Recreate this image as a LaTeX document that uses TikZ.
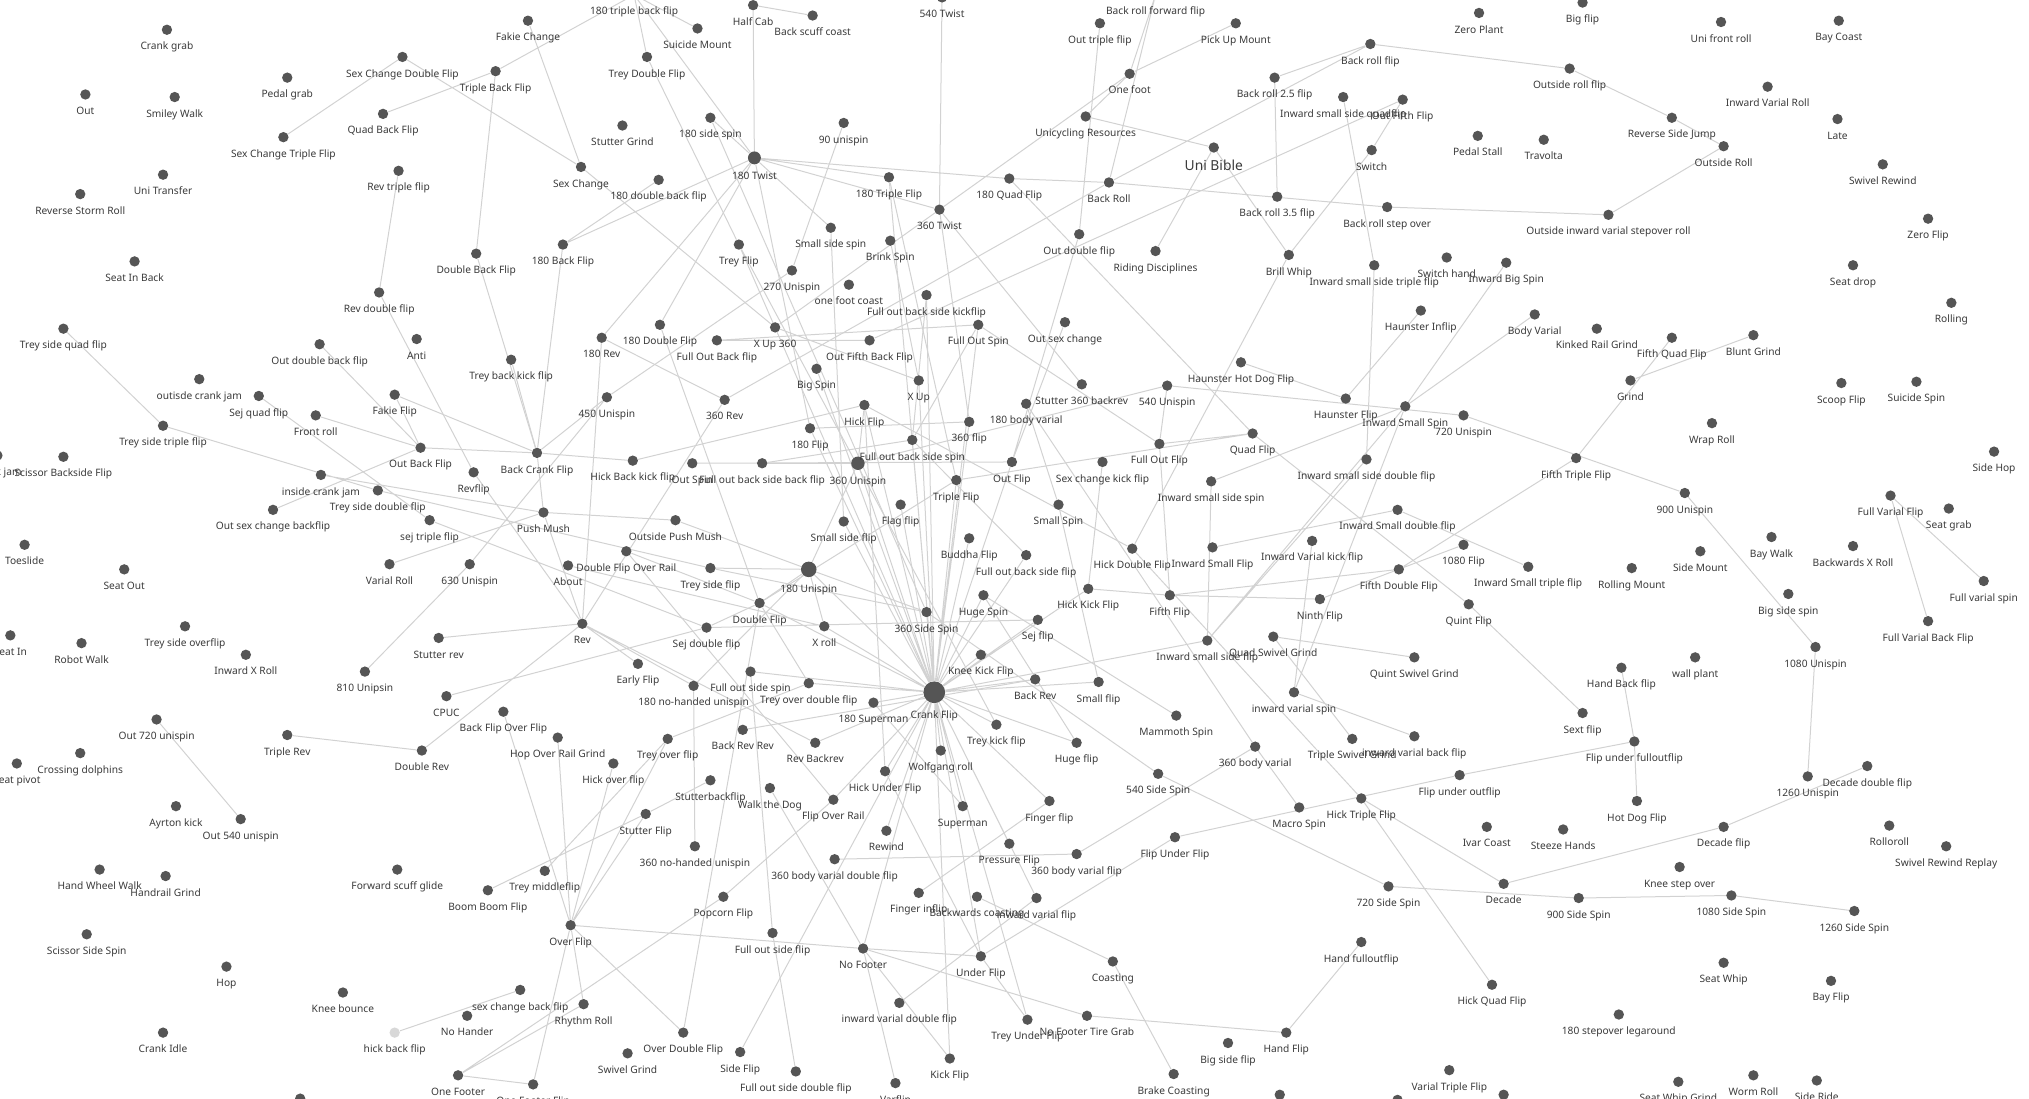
\documentclass[tikz,border=0pt]{standalone}
\usepackage{fontspec}
\setmainfont{Noto Sans}
\usetikzlibrary{backgrounds}
\definecolor{dotgray}{HTML}{555555}
\definecolor{linkgray}{HTML}{D2D2D2}
\definecolor{labelgray}{HTML}{3A3A3A}
\definecolor{paledot}{HTML}{D8D8D8}

\begin{document}
\begin{tikzpicture}[
    x=0.025cm, y=-0.025cm,
    dot/.style={circle, fill=dotgray, inner sep=0pt, minimum size=0.2cm},
    hubdot/.style={dot, minimum size=#1},
    link/.style={draw=linkgray, line width=0.55pt},
    every label/.style={font=\fontsize{5.6}{6}\selectfont, text=labelgray, inner sep=0pt,
                        text height=4.1pt, text depth=1.2pt},
    label distance=3.7pt
]
\useasboundingbox (0,0) rectangle (1568,849);

% left side
\node[dot, label={below:Crank grab}] (crankgrab) at (129,23) {};
\node[dot, label={below:Out}] (out) at (66,73) {};
\node[dot, label={below:Smiley Walk}] (smileywalk) at (135,75) {};
\node[dot, label={below:Pedal grab}] (pedalgrab) at (222,60) {};
\node[dot, label={below:Sex Change Double Flip}] (scdouble) at (311,44) {};
\node[dot, label={below:Triple Back Flip}] (tripleback) at (383,55) {};
\node[dot, label={below:Quad Back Flip}] (quadback) at (296,88) {};
\node[dot, label={below:Sex Change Triple Flip}] (sctriple) at (219,106) {};
\node[dot, label={below:Uni Transfer}] (unitransfer) at (126,135) {};
\node[dot, label={below:Reverse Storm Roll}] (revstorm) at (62,150) {};
\node[dot, label={below:Rev triple flip}] (revtriple) at (308,132) {};
\node[dot, label={below:Seat In Back}] (seatinback) at (104,202) {};
\node[dot, label={below:Double Back Flip}] (doubleback) at (368,196) {};
\node[dot, label={below:Rev double flip}] (revdouble) at (293,226) {};
\node[dot, label={below:Trey side quad flip}] (tsquad) at (49,254) {};
\node[dot, label={below:Out double back flip}] (outdoubleback) at (247,266) {};
\node[dot, label={below:Anti}] (anti) at (322,262) {};
\node[dot, label={below:Trey back kick flip}] (treybackkick) at (395,278) {};
\node[dot, label={below:outisde crank jam}] (outsidecrankjam) at (154,293) {};
\node[dot, label={below:Sej quad flip}] (sejquad) at (200,306) {};
\node[dot, label={below:Fakie Flip}] (fakieflip) at (305,305) {};
\node[dot, label={below:Front roll}] (frontroll) at (244,321) {};
\node[dot, label={below:Trey side triple flip}] (tstriple) at (126,329) {};
\node[dot, label={below:Out Back Flip}] (outback) at (325,346) {};
\node[dot, label={below:Scissor Backside Flip}] (scissorback) at (49,353) {};
\node[dot, label={below:Crank jam}] (crankjam) at (-2,352) {};
\node[dot, label={below:inside crank jam}] (insidecrankjam) at (248,367) {};
\node[dot, label={below:Trey side double flip}] (tsdouble) at (292,379) {};
\node[dot, label={below:Revflip}] (revflip) at (366,365) {};
\node[dot, label={below:Out sex change backflip}] (outscback) at (211,394) {};
\node[dot, label={below:sej triple flip}] (sejtriple) at (332,402) {};
\node[dot, label={below:Toeslide}] (toeslide) at (19,421) {};
\node[dot, label={below:Varial Roll}] (varialroll) at (301,436) {};
\node[dot, label={below:630 Unispin}] (u630) at (363,436) {};
\node[dot, label={below:Seat Out}] (seatout) at (96,440) {};
\node[dot, label={below:Seat In}] (seatin) at (8,491) {};
\node[dot, label={below:Robot Walk}] (robotwalk) at (63,497) {};
\node[dot, label={below:Trey side overflip}] (tsoverflip) at (143,484) {};
\node[dot, label={below:Inward X Roll}] (inwardxroll) at (190,506) {};
\node[dot, label={below:Stutter rev}] (stutterrev) at (339,493) {};
\node[dot, label={below:810 Unipsin}] (u810) at (282,519) {};
\node[dot, label={below:CPUC}] (cpuc) at (345,538) {};
\node[dot, label={below:Back Flip Over Flip}] (bfof) at (389,550) {};
\node[dot, label={below:Out 720 unispin}] (out720) at (121,556) {};
\node[dot, label={below:Triple Rev}] (triplerev) at (222,568) {};
\node[dot, label={below:Double Rev}] (doublerev) at (326,580) {};
\node[dot, label={below:Crossing dolphins}] (crossdolphins) at (62,582) {};
\node[dot, label={below:Seat pivot}] (seatpivot) at (13,590) {};
\node[dot, label={below:Ayrton kick}] (ayrton) at (136,623) {};
\node[dot, label={below:Out 540 unispin}] (out540) at (186,633) {};
\node[dot, label={below:Hand Wheel Walk}] (handwheel) at (77,672) {};
\node[dot, label={below:Handrail Grind}] (handrail) at (128,677) {};
\node[dot, label={below:Forward scuff glide}] (fwdscuff) at (307,672) {};
\node[dot, label={below:Boom Boom Flip}] (boomboom) at (377,688) {};
\node[dot, label={below:Scissor Side Spin}] (scissorside) at (67,722) {};
\node[dot, label={below:Hop}] (hop) at (175,747) {};
\node[dot, label={below:Knee bounce}] (kneebounce) at (265,767) {};
\node[dot, label={below:Crank Idle}] (crankidle) at (126,798) {};
\node[dot, fill=paledot, label={below:hick back flip}] (hickbackflip) at (305,798) {};
\node[dot, label={below:No Hander}] (nohander) at (361,785) {};
\node[dot, label={below:One Footer}] (onefooter) at (354,831) {};
\node[dot, label={below:One Footer Flip}] (onefooterflip) at (412,838) {};
\node[dot] (pdota) at (232,849) {};

% centre
\node[dot, label={below:Fakie Change}] (fakiechange) at (408,16) {};
\node[dot, label={below:180 triple back flip}] (tbf180) at (490,-4) {};
\node[dot, label={below:Half Cab}] (halfcab) at (582,4) {};
\node[dot, label={below:Back scuff coast}] (backscuff) at (628,12) {};
\node[dot, label={below:Suicide Mount}] (suicidemount) at (539,22) {};
\node[dot, label={below:540 Twist}] (twist540) at (728,-2) {};
\node[dot, label={below:Trey Double Flip}] (treydouble) at (500,44) {};
\node[dot, label={below:Stutter Grind}] (stuttergrind) at (481,97) {};
\node[dot, label={below:180 side spin}] (sidespin180) at (549,91) {};
\node[dot, label={below:90 unispin}] (ninety) at (652,95) {};
\node[hubdot=0.25cm, label={below:180 Twist}] (twist180) at (583,122) {};
\node[dot, label={below:Sex Change}] (sexchange) at (449,129) {};
\node[dot, label={below:180 double back flip}] (doubleback180) at (509,139) {};
\node[dot, label={below:180 Triple Flip}] (triple180) at (687,137) {};
\node[dot, label={below:180 Quad Flip}] (quad180) at (780,138) {};
\node[dot, label={below:360 Twist}] (twist360) at (726,162) {};
\node[dot, label={below:180 Back Flip}] (back180) at (435,189) {};
\node[dot, label={below:Trey Flip}] (treyflip) at (571,189) {};
\node[dot, label={below:Small side spin}] (smallsidespin) at (642,176) {};
\node[dot, label={below:Brink Spin}] (brinkspin) at (688,186) {};
\node[dot, label={below:270 Unispin}] (u270) at (612,209) {};
\node[dot, label={below:one foot coast}] (onefootcoast) at (656,220) {};
\node[dot, label={below:Full out back side kickflip}] (fobskick) at (716,228) {};
\node[dot, label={below:180 Double Flip}] (double180) at (510,251) {};
\node[dot, label={below:180 Rev}] (rev180) at (465,261) {};
\node[dot, label={below:Full Out Back flip}] (fullOutBack) at (554,263) {};
\node[dot, label={below:X Up 360}] (xup360) at (599,253) {};
\node[dot, label={below:Out Fifth Back Flip}] (outfifthback) at (672,263) {};
\node[dot, label={below:Full Out Spin}] (fullOutSpin) at (756,251) {};
\node[dot, label={below:Big Spin}] (bigspin) at (631,285) {};
\node[dot, label={below:450 Unispin}] (u450) at (469,307) {};
\node[dot, label={below:360 Rev}] (rev360) at (560,309) {};
\node[dot, label={below:X Up}] (xup) at (710,294) {};
\node[dot, label={below:Hick Flip}] (hickflip) at (668,313) {};
\node[dot, label={below:180 Flip}] (flip180) at (626,331) {};
\node[dot, label={below:360 flip}] (flip360) at (749,326) {};
\node[dot, label={below:Back Crank Flip}] (backcrank) at (415,350) {};
\node[dot, label={below:Hick Back kick flip}] (hickbackkick) at (489,356) {};
\node[dot, label={below:Out Spin}] (outspin) at (535,358) {};
\node[dot, label={below:Full out back side back flip}] (fobsbf) at (589,358) {};
\node[hubdot=0.26cm, label={below:360 Unispin}] (u360) at (663,358) {};
\node[dot, label={below:Full out back side spin}] (fobss) at (705,340) {};
\node[dot, label={below:Out Flip}] (outflip) at (782,357) {};
\node[dot, label={below:Triple Flip}] (tripleflip) at (739,371) {};
\node[dot, label={below:Push Mush}] (pushmush) at (420,396) {};
\node[dot, label={below:Outside Push Mush}] (outsidepush) at (522,402) {};
\node[dot, label={below:Flag flip}] (flagflip) at (696,390) {};
\node[dot, label={below:Small side flip}] (smallsideflip) at (652,403) {};
\node[dot, label={below:Buddha Flip}] (buddha) at (749,416) {};
\node[dot, label={below:Double Flip Over Rail}] (dfor) at (484,426) {};
\node[dot, label={below:About}] (about) at (439,437) {};
\node[dot, label={below:Trey side flip}] (tsflip) at (549,439) {};
\node[hubdot=0.3cm, label={below:180 Unispin}] (u180) at (625,440) {};
\node[dot, label={below:Full out back side flip}] (fobsflip) at (793,429) {};
\node[dot, label={below:Huge Spin}] (hugespin) at (760,460) {};
\node[dot, label={below:Double Flip}] (doubleflip) at (587,466) {};
\node[dot, label={below:360 Side Spin}] (sidespin360) at (716,473) {};
\node[dot, label={below:Rev}] (rev) at (450,482) {};
\node[dot, label={below:Sej double flip}] (sejdouble) at (546,485) {};
\node[dot, label={below:X roll}] (xroll) at (637,484) {};
\node[dot, label={below:Knee Kick Flip}] (kneekick) at (758,506) {};
\node[dot, label={below:Early Flip}] (earlyflip) at (493,513) {};
\node[dot, label={below:Full out side spin}] (fosspin) at (580,519) {};
\node[dot, label={below:Trey over double flip}] (treyoverdouble) at (625,528) {};
\node[dot, label={below:180 no-handed unispin}] (nohanded180) at (536,530) {};
\node[hubdot=0.42cm, label={below:Crank Flip}] (crankflip) at (722,535) {};
\node[dot, label={below:180 Superman}] (superman180) at (675,543) {};
\node[dot, label={below:Trey kick flip}] (treykick) at (770,560) {};
\node[dot, label={below:Back Rev Rev}] (backrevrev) at (574,564) {};
\node[dot, label={below:Hop Over Rail Grind}] (hopoverrail) at (431,570) {};
\node[dot, label={below:Trey over flip}] (treyoverflip) at (516,571) {};
\node[dot, label={below:Rev Backrev}] (revbackrev) at (630,574) {};
\node[dot, label={below:Wolfgang roll}] (wolfgang) at (727,580) {};
\node[dot, label={below:Hick over flip}] (hickoverflip) at (474,590) {};
\node[dot, label={below:Hick Under Flip}] (hickunder) at (684,596) {};
\node[dot, label={below:Stutterbackflip}] (stutterbackflip) at (549,603) {};
\node[dot, label={below:Walk the Dog}] (walkdog) at (595,609) {};
\node[dot, label={below:Flip Over Rail}] (flipoverrail) at (644,618) {};
\node[dot, label={below:Superman}] (superman) at (744,623) {};
\node[dot, label={below:Stutter Flip}] (stutterflip) at (499,629) {};
\node[dot, label={below:Rewind}] (rewind) at (685,642) {};
\node[dot, label={below:Pressure Flip}] (pressureflip) at (780,652) {};
\node[dot, label={below:360 no-handed unispin}] (nohanded360) at (537,654) {};
\node[dot, label={below:360 body varial double flip}] (bvdf360) at (645,664) {};
\node[dot, label={below:Trey middleflip}] (treymiddle) at (421,673) {};
\node[dot, label={below:Finger inflip}] (fingerinflip) at (710,690) {};
\node[dot, label={below:Backwards coasting}] (bwcoasting) at (755,693) {};
\node[dot, label={below:Popcorn Flip}] (popcorn) at (559,693) {};
\node[dot, label={below:Over Flip}] (overflip) at (441,715) {};
\node[dot, label={below:Full out side flip}] (fosflip) at (597,721) {};
\node[dot, label={below:No Footer}] (nofooter) at (667,733) {};
\node[dot, label={below:Under Flip}] (underflip) at (758,739) {};
\node[dot, label={below:sex change back flip}] (scbackflip) at (402,765) {};
\node[dot, label={below:Rhythm Roll}] (rhythm) at (451,776) {};
\node[dot, label={below:inward varial double flip}] (ivdf) at (695,775) {};
\node[dot, label={below:Over Double Flip}] (overdouble) at (528,798) {};
\node[dot, label={below:Swivel Grind}] (swivelgrind) at (485,814) {};
\node[dot, label={below:Side Flip}] (sideflip) at (572,813) {};
\node[dot, label={below:Kick Flip}] (kickflip) at (734,818) {};
\node[dot, label={below:Full out side double flip}] (fosdouble) at (615,828) {};
\node[dot, label={below:Varflip}] (varflip) at (692,837) {};

% right of centre
\node[dot, label={below:Back roll forward flip}] (brfwd) at (893,-4) {};
\node[dot, label={below:Out triple flip}] (outtriple) at (850,18) {};
\node[dot, label={below:Pick Up Mount}] (pickup) at (955,18) {};
\node[dot, label={below:One foot}] (onefoot) at (873,57) {};
\node[dot, label={below:Back roll flip}] (backrollflip) at (1059,34) {};
\node[dot, label={below:Back roll 2.5 flip}] (br25) at (985,60) {};
\node[dot, label={below:Inward small side quadflip}] (issquad) at (1038,75) {};
\node[dot, label={below:Out Fifth Flip}] (outfifthflip) at (1084,77) {};
\node[dot, label={below:Zero Plant}] (zeroplant) at (1143,10) {};
\node[dot, label={below:Pedal Stall}] (pedalstall) at (1142,105) {};
\node[dot, label={below:Unicycling Resources}] (unires) at (839,90) {};
\node[dot, label={[font=\fontsize{7.6}{8}\selectfont, text height=5.6pt]below:Uni Bible}] (unibible) at (938,114) {};
\node[dot, label={below:Switch}] (switch) at (1060,116) {};
\node[dot, label={below:Back Roll}] (backroll) at (857,141) {};
\node[dot, label={below:Back roll 3.5 flip}] (br35) at (987,152) {};
\node[dot, label={below:Back roll step over}] (brstep) at (1072,160) {};
\node[dot, label={below:Out double flip}] (outdoubleflip) at (834,181) {};
\node[dot, label={below:Riding Disciplines}] (ridingdisc) at (893,194) {};
\node[dot, label={below:Brill Whip}] (brillwhip) at (996,197) {};
\node[dot, label={below:Inward small side triple flip}] (isstriple) at (1062,205) {};
\node[dot, label={below:Switch hand}] (switchhand) at (1118,199) {};
\node[dot, label={below:Inward Big Spin}] (inwardbigspin) at (1164,203) {};
\node[dot, label={below:Haunster Inflip}] (haunsterinflip) at (1098,240) {};
\node[dot, label={below:Out sex change}] (outsexchange) at (823,249) {};
\node[dot, label={below:Body Varial}] (bodyvarial) at (1186,243) {};
\node[dot, label={below:Haunster Hot Dog Flip}] (haunsterhotdog) at (959,280) {};
\node[dot, label={below:Stutter 360 backrev}] (stutter360) at (836,297) {};
\node[dot, label={below:180 body varial}] (body180) at (793,312) {};
\node[dot, label={below:540 Unispin}] (u540) at (902,298) {};
\node[dot, label={below:Haunster Flip}] (haunsterflip) at (1040,308) {};
\node[dot, label={below:Inward Small Spin}] (inwardsmallspin) at (1086,314) {};
\node[dot, label={below:720 Unispin}] (u720) at (1131,321) {};
\node[dot, label={below:Full Out Flip}] (fulloutflip) at (896,343) {};
\node[dot, label={below:Quad Flip}] (quadflip) at (968,335) {};
\node[dot, label={below:Sex change kick flip}] (sckickflip) at (852,357) {};
\node[dot, label={below:Inward small side spin}] (issspin) at (936,372) {};
\node[dot, label={below:Inward small side double flip}] (issdouble) at (1056,355) {};
\node[dot, label={below:Small Spin}] (smallspin) at (818,390) {};
\node[dot, label={below:Inward Small double flip}] (isdouble) at (1080,394) {};
\node[dot, label={below:Inward Small Flip}] (inwardsmallflip) at (937,423) {};
\node[dot, label={below:Hick Double Flip}] (hickdouble) at (875,424) {};
\node[dot, label={below:Inward Varial kick flip}] (ivkick) at (1014,418) {};
\node[dot, label={below:1080 Flip}] (flip1080) at (1131,421) {};
\node[dot, label={below:Fifth Double Flip}] (fifthdouble) at (1081,440) {};
\node[dot, label={below:Hick Kick Flip}] (hickkick) at (841,455) {};
\node[dot, label={below:Fifth Flip}] (fifthflip) at (904,460) {};
\node[dot, label={below:Ninth Flip}] (ninthflip) at (1020,463) {};
\node[dot, label={below:Quint Flip}] (quintflip) at (1135,467) {};
\node[dot, label={below:Sej flip}] (sejflip) at (802,479) {};
\node[dot, label={below:Inward small side flip}] (issflip) at (933,495) {};
\node[dot, label={below:Quad Swivel Grind}] (quadswivel) at (984,492) {};
\node[dot, label={below:Quint Swivel Grind}] (quintswivel) at (1093,508) {};
\node[dot, label={below:Back Rev}] (backrev) at (800,525) {};
\node[dot, label={below:Small flip}] (smallflip) at (849,527) {};
\node[dot, label={below:inward varial spin}] (ivspin) at (1000,535) {};
\node[dot, label={below:Mammoth Spin}] (mammoth) at (909,553) {};
\node[dot, label={below:Inward Small triple flip}] (istriple) at (1181,438) {};
\node[dot, label={below:Huge flip}] (hugeflip) at (832,574) {};
\node[dot, label={below:540 Side Spin}] (sidespin540) at (895,598) {};
\node[dot, label={below:360 body varial}] (bv360) at (970,577) {};
\node[dot, label={below:Triple Swivel Grind}] (tripleswivel) at (1045,571) {};
\node[dot, label={below:inward varial back flip}] (ivback) at (1093,569) {};
\node[dot, label={below:Finger flip}] (fingerflip) at (811,619) {};
\node[dot, label={below:Macro Spin}] (macrospin) at (1004,624) {};
\node[dot, label={below:Hick Triple Flip}] (hicktriple) at (1052,617) {};
\node[dot, label={below:Flip under outflip}] (flipunderoutflip) at (1128,599) {};
\node[dot, label={below:Flip Under Flip}] (flipunderflip) at (908,647) {};
\node[dot, label={below:Ivar Coast}] (ivarcoast) at (1149,639) {};
\node[dot, label={below:360 body varial flip}] (bvflip360) at (832,660) {};
\node[dot, label={below:720 Side Spin}] (sidespin720) at (1073,685) {};
\node[dot, label={below:Decade}] (decade) at (1162,683) {};
\node[dot, label={below:inward varial flip}] (ivflip) at (801,694) {};
\node[dot, label={below:Coasting}] (coasting) at (860,743) {};
\node[dot, label={below:Hand fulloutflip}] (handfullout) at (1052,728) {};
\node[dot, label={below:Hick Quad Flip}] (hickquad) at (1153,761) {};
\node[dot, label={below:Trey Under Flip}] (treyunder) at (794,788) {};
\node[dot, label={below:No Footer Tire Grab}] (nofootertire) at (840,785) {};
\node[dot, label={below:Hand Flip}] (handflip) at (994,798) {};
\node[dot, label={below:Big side flip}] (bigsideflip) at (949,806) {};
\node[dot, label={below:Brake Coasting}] (brakecoasting) at (907,830) {};
\node[dot, label={below:Varial Triple Flip}] (varialtriple) at (1120,827) {};
\node[dot] (pdotb) at (989,846) {};
\node[dot] (pdotc) at (1080,850) {};
\node[dot] (pdotd) at (1162,846) {};

% right side
\node[dot, label={below:Big flip}] (bigflip) at (1223,2) {};
\node[dot, label={below:Uni front roll}] (unifrontroll) at (1330,17) {};
\node[dot, label={below:Bay Coast}] (baycoast) at (1421,16) {};
\node[dot, label={below:Outside roll flip}] (outsiderollflip) at (1213,53) {};
\node[dot, label={below:Inward Varial Roll}] (inwardvarialroll) at (1366,67) {};
\node[dot, label={below:Reverse Side Jump}] (revsidejump) at (1292,91) {};
\node[dot, label={below:Late}] (late) at (1420,92) {};
\node[dot, label={below:Travolta}] (travolta) at (1193,108) {};
\node[dot, label={below:Outside Roll}] (outsideroll) at (1332,113) {};
\node[dot, label={below:Swivel Rewind}] (swivelrewind) at (1455,127) {};
\node[dot, label={below:Zero Flip}] (zeroflip) at (1490,169) {};
\node[dot, label={below:Outside inward varial stepover roll}] (oivsr) at (1243,166) {};
\node[dot, label={below:Seat drop}] (seatdrop) at (1432,205) {};
\node[dot, label={below:Rolling}] (rolling) at (1508,234) {};
\node[dot, label={below:Kinked Rail Grind}] (kinkedrail) at (1234,254) {};
\node[dot, label={below:Fifth Quad Flip}] (fifthquad) at (1292,261) {};
\node[dot, label={below:Blunt Grind}] (bluntgrind) at (1355,259) {};
\node[dot, label={below:Grind}] (grind) at (1260,294) {};
\node[dot, label={below:Scoop Flip}] (scoopflip) at (1423,296) {};
\node[dot, label={below:Suicide Spin}] (suicidespin) at (1481,295) {};
\node[dot, label={below:Wrap Roll}] (wraproll) at (1323,327) {};
\node[dot, label={below:Side Hop}] (sidehop) at (1541,349) {};
\node[dot, label={below:Fifth Triple Flip}] (fifthtriple) at (1218,354) {};
\node[dot, label={below:900 Unispin}] (u900) at (1302,381) {};
\node[dot, label={below:Full Varial Flip}] (fullvarialflip) at (1461,383) {};
\node[dot, label={below:Seat grab}] (seatgrab) at (1506,393) {};
\node[dot, label={below:Bay Walk}] (baywalk) at (1369,415) {};
\node[dot, label={below:Backwards X Roll}] (backwardsxroll) at (1432,422) {};
\node[dot, label={below:Side Mount}] (sidemount) at (1314,426) {};
\node[dot, label={below:Rolling Mount}] (rollingmount) at (1261,439) {};
\node[dot, label={below:Full varial spin}] (fullvarialspin) at (1533,449) {};
\node[dot, label={below:Big side spin}] (bigsidespin) at (1382,459) {};
\node[dot, label={below:Full Varial Back Flip}] (fvbf) at (1490,480) {};
\node[dot, label={below:1080 Unispin}] (u1080) at (1403,500) {};
\node[dot, label={below:wall plant}] (wallplant) at (1310,508) {};
\node[dot, label={below:Hand Back flip}] (handbackflip) at (1253,516) {};
\node[dot, label={below:Sext flip}] (sextflip) at (1223,551) {};
\node[dot, label={below:Flip under fulloutflip}] (flipunderfullout) at (1263,573) {};
\node[dot, label={below:Decade double flip}] (decadedouble) at (1443,592) {};
\node[dot, label={below:1260 Unispin}] (u1260) at (1397,600) {};
\node[dot, label={below:Hot Dog Flip}] (hotdog) at (1265,619) {};
\node[dot, label={below:Decade flip}] (decadeflip) at (1332,639) {};
\node[dot, label={below:Rolloroll}] (rolloroll) at (1460,638) {};
\node[dot, label={below:Swivel Rewind Replay}] (swivelrewindreplay) at (1504,654) {};
\node[dot, label={below:Steeze Hands}] (steeze) at (1208,641) {};
\node[dot, label={below:Knee step over}] (kneestep) at (1298,670) {};
\node[dot, label={below:900 Side Spin}] (sidespin900) at (1220,694) {};
\node[dot, label={below:1080 Side Spin}] (sidespin1080) at (1338,692) {};
\node[dot, label={below:1260 Side Spin}] (sidespin1260) at (1433,704) {};
\node[dot, label={below:Seat Whip}] (seatwhip) at (1332,744) {};
\node[dot, label={below:Bay Flip}] (bayflip) at (1415,758) {};
\node[dot, label={below:180 stepover legaround}] (stepover180) at (1251,784) {};
\node[dot, label={below:Seat Whip Grind}] (seatwhipgrind) at (1297,836) {};
\node[dot, label={below:Worm Roll}] (wormroll) at (1355,831) {};
\node[dot, label={below:Side Ride}] (sideride) at (1404,835) {};

\begin{scope}[on background layer]
\draw[link] (scdouble) -- (sctriple) (scdouble) -- (sexchange) (quadback) -- (tripleback)
    (tripleback) -- (doubleback) (tripleback) -- (tbf180) (revtriple) -- (revdouble)
    (revdouble) -- (revflip) (doubleback) -- (backcrank) (tsquad) -- (tstriple)
    (outdoubleback) -- (outback) (fakiechange) -- (sexchange) (tbf180) -- (suicidemount)
    (tbf180) -- (twist180) (treydouble) -- (tbf180) (treydouble) -- (treyflip)
    (halfcab) -- (twist180) (halfcab) -- (backscuff);
\draw[link] (twist540) -- (twist360) (twist180) -- (twist360) (twist180) -- (triple180)
    (twist180) -- (quad180) (twist180) -- (sidespin180) (twist180) -- (back180)
    (twist180) -- (double180) (twist180) -- (rev180) (twist180) -- (flip180)
    (twist180) -- (smallsidespin) (back180) -- (doubleback180) (back180) -- (backcrank)
    (sexchange) -- (xup360) (twist360) -- (onefoot) (twist360) -- (flip360)
    (twist360) -- (stutter360) (twist360) -- (xup360) (triple180) -- (tripleflip)
    (quad180) -- (quadflip) (quad180) -- (backroll);
\draw[link] (ninety) -- (u270) (u270) -- (u450) (u450) -- (u630) (u630) -- (u810)
    (u180) -- (u360) (u360) -- (u540) (u540) -- (u720) (u720) -- (u900) (u900) -- (u1080)
    (u1080) -- (u1260) (out720) -- (out540) (nohanded180) -- (nohanded360) (u450) -- (backcrank);
\draw[link] (sidespin180) -- (sidespin360) (sidespin360) -- (sidespin540) (sidespin540) -- (sidespin720)
    (sidespin720) -- (sidespin900) (sidespin900) -- (sidespin1080) (sidespin1080) -- (sidespin1260);
\draw[link] (fullOutBack) -- (outfifthback) (fullOutBack) -- (fullOutSpin) (fobskick) -- (fobss)
    (outfifthback) -- (outfifthflip) (fobsbf) -- (fobss) (fobsflip) -- (fobss) (fullOutSpin) -- (fulloutflip)
    (fullOutSpin) -- (fobss) (fosspin) -- (fosflip) (fosflip) -- (fosdouble);
\draw[link] (smallsidespin) -- (smallsideflip) (brinkspin) -- (xup) (rev180) -- (rev) (rev360) -- (rev)
    (rev180) -- (rev360) (xup360) -- (xup) (treyflip) -- (crankflip) (treyflip) -- (treykick)
    (flip180) -- (flip360) (rev360) -- (backroll);
\draw[link] (crankflip) -- (sidespin360) (crankflip) -- (kneekick) (crankflip) -- (backrev)
    (crankflip) -- (sejflip) (crankflip) -- (hickkick) (crankflip) -- (smallflip)
    (crankflip) -- (treykick) (crankflip) -- (hugeflip) (crankflip) -- (wolfgang)
    (crankflip) -- (superman) (crankflip) -- (hickunder) (crankflip) -- (rewind)
    (crankflip) -- (superman180) (crankflip) -- (treyoverdouble) (crankflip) -- (fosspin)
    (crankflip) -- (xroll) (crankflip) -- (u180) (crankflip) -- (doubleflip)
    (crankflip) -- (smallsideflip) (crankflip) -- (flagflip) (crankflip) -- (hickflip)
    (crankflip) -- (xup) (crankflip) -- (bigspin) (crankflip) -- (tripleflip)
    (crankflip) -- (buddha) (crankflip) -- (hugespin) (crankflip) -- (fobsflip)
    (crankflip) -- (flip180) (crankflip) -- (u360) (crankflip) -- (nofooter)
    (crankflip) -- (underflip) (crankflip) -- (revbackrev) (crankflip) -- (flipoverrail)
    (crankflip) -- (fingerflip) (crankflip) -- (pressureflip) (crankflip) -- (kickflip)
    (crankflip) -- (treyunder) (crankflip) -- (ivflip) (crankflip) -- (fobss)
    (crankflip) -- (flip360) (crankflip) -- (outflip) (crankflip) -- (sideflip)
    (crankflip) -- (issflip) (crankflip) -- (triple180) (crankflip) -- (fobskick)
    (crankflip) -- (fullOutSpin);
\draw[link] (u180) -- (nohanded180) (u180) -- (sidespin360) (u180) -- (tsflip) (u180) -- (outsidepush)
    (u180) -- (doubleflip) (u180) -- (xroll) (u360) -- (fobsbf) (u360) -- (hickflip)
    (u540) -- (fulloutflip) (fulloutflip) -- (fifthflip);
\draw[link] (doubleflip) -- (tripleflip) (tripleflip) -- (quadflip) (quadflip) -- (quintflip)
    (quintflip) -- (sextflip) (doubleflip) -- (dfor) (doubleflip) -- (double180)
    (doubleflip) -- (treyoverdouble) (doubleflip) -- (sejdouble) (doubleflip) -- (overdouble)
    (quadflip) -- (fulloutflip);
\draw[link] (hickflip) -- (hickdouble) (hickdouble) -- (hicktriple) (hicktriple) -- (hickquad)
    (hicktriple) -- (decade) (hickflip) -- (hickunder) (hickflip) -- (hickbackkick)
    (hickbackkick) -- (backcrank) (hickkick) -- (sckickflip) (hickoverflip) -- (overflip)
    (hickbackflip) -- (scbackflip) (hickunder) -- (underflip);
\draw[link] (outback) -- (backcrank) (outflip) -- (outdoubleflip) (outdoubleflip) -- (outtriple)
    (outspin) -- (outflip) (outflip) -- (outsexchange) (fakieflip) -- (outback)
    (fakieflip) -- (backcrank) (frontroll) -- (outback) (outscback) -- (outback)
    (treybackkick) -- (backcrank);
\draw[link] (sejquad) -- (sejtriple) (sejtriple) -- (sejdouble) (sejdouble) -- (sejflip)
    (tstriple) -- (tsdouble) (tsdouble) -- (tsflip) (tsflip) -- (sidespin360)
    (pushmush) -- (backcrank) (pushmush) -- (outsidepush) (pushmush) -- (insidecrankjam)
    (pushmush) -- (varialroll) (pushmush) -- (rev) (rev) -- (stutterrev) (rev) -- (doublerev)
    (doublerev) -- (triplerev) (revflip) -- (rev) (rev) -- (nohanded180) (rev) -- (revbackrev)
    (earlyflip) -- (rev) (cpuc) -- (sejdouble) (about) -- (xroll);
\draw[link] (overflip) -- (hopoverrail) (overflip) -- (treyoverflip) (overflip) -- (overdouble)
    (overflip) -- (nofooter) (overflip) -- (rhythm) (overflip) -- (onefooterflip)
    (overflip) -- (bfof) (overflip) -- (stutterflip) (treyoverflip) -- (treyoverdouble)
    (treymiddle) -- (treyoverflip) (stutterflip) -- (stutterbackflip) (stutterflip) -- (boomboom)
    (dfor) -- (flipoverrail) (popcorn) -- (flipoverrail) (popcorn) -- (onefooter)
    (onefooter) -- (rhythm) (onefooter) -- (onefooterflip);
\draw[link] (nofooter) -- (walkdog) (nofooter) -- (nofootertire) (nofooter) -- (varflip)
    (nofooter) -- (kickflip) (nofooter) -- (underflip) (underflip) -- (treyunder)
    (underflip) -- (flipunderflip) (ivdf) -- (ivflip) (fingerflip) -- (fingerinflip)
    (nofootertire) -- (handflip) (handflip) -- (handfullout) (coasting) -- (brakecoasting)
    (bwcoasting) -- (coasting) (superman) -- (superman180) (backrevrev) -- (backrev)
    (hugespin) -- (hugeflip) (mammoth) -- (hugespin) (smallspin) -- (smallflip)
    (smallspin) -- (body180) (body180) -- (bv360);
\draw[link] (bv360) -- (bvflip360) (bvdf360) -- (bvflip360) (bv360) -- (macrospin)
    (flipunderflip) -- (flipunderoutflip) (flipunderoutflip) -- (flipunderfullout)
    (flipunderfullout) -- (hotdog) (handbackflip) -- (flipunderfullout)
    (decade) -- (decadeflip) (decadeflip) -- (decadedouble) (tripleswivel) -- (quadswivel)
    (quadswivel) -- (quintswivel) (ivspin) -- (ivkick) (ivspin) -- (ivback)
    (ivspin) -- (inwardsmallspin);
\draw[link] (issquad) -- (isstriple) (isstriple) -- (issdouble) (issdouble) -- (issflip)
    (issspin) -- (issflip) (inwardsmallflip) -- (isdouble) (isdouble) -- (istriple)
    (issspin) -- (inwardsmallspin) (inwardsmallspin) -- (inwardbigspin)
    (inwardsmallspin) -- (bodyvarial) (inwardsmallspin) -- (issflip)
    (haunsterinflip) -- (haunsterflip) (haunsterflip) -- (haunsterhotdog)
    (fifthquad) -- (fifthtriple) (bluntgrind) -- (grind) (fifthtriple) -- (fifthdouble)
    (fifthdouble) -- (fifthflip) (ninthflip) -- (flip1080) (fifthflip) -- (ninthflip)
    (hickkick) -- (fifthflip) (fullvarialflip) -- (fvbf) (fullvarialflip) -- (fullvarialspin);
\draw[link] (switch) -- (outfifthflip) (switch) -- (brillwhip) (brillwhip) -- (hickdouble)
    (unibible) -- (ridingdisc) (unibible) -- (brillwhip) (unires) -- (unibible)
    (onefoot) -- (unires) (onefoot) -- (pickup) (onefoot) -- (brfwd) (brfwd) -- (backroll)
    (backroll) -- (backrollflip) (backrollflip) -- (br25) (br25) -- (br35) (backroll) -- (brstep)
    (brstep) -- (oivsr) (oivsr) -- (outsideroll) (outsideroll) -- (revsidejump)
    (revsidejump) -- (outsiderollflip) (outsiderollflip) -- (backrollflip);
\end{scope}
\end{tikzpicture}
\end{document}
